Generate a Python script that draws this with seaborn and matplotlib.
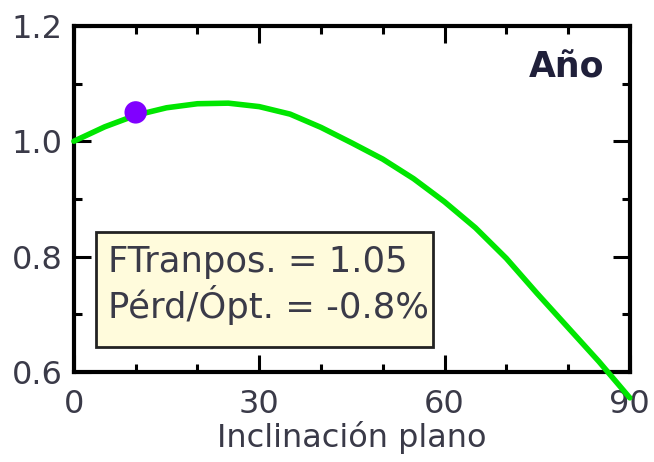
import matplotlib
matplotlib.use("Agg")
import matplotlib.pyplot as plt
from matplotlib.ticker import MultipleLocator
from matplotlib.patches import Rectangle
import numpy as np
import pandas as pd
import seaborn as sns

# Transposition factor versus plane tilt (annual)
tilt = [0, 5, 10, 15, 20, 25, 30, 35, 40, 45, 50, 55, 60, 65, 70, 75, 80, 85, 90]
factor = [1.000, 1.025, 1.045, 1.058, 1.065, 1.066, 1.060, 1.047, 1.024, 0.997,
          0.969, 0.935, 0.895, 0.850, 0.797, 0.736, 0.677, 0.618, 0.555]

current_tilt = [10]
current_factor = [1.05]
loss_pct = -0.8

x_ticks = [0, 30, 60, 90]
y_ticks = [0.6, 0.8, 1.0, 1.2]

sns.set_style("ticks")
plt.rcParams["font.family"] = ["DejaVu Sans"]

text_col = "#3a3a48"
fs = 23

df = pd.DataFrame({"tilt": tilt, "factor": factor})

fig = plt.figure(figsize=(6.54, 4.62), dpi=100)
ax = fig.add_axes([0.113, 0.195, 0.85, 0.749])

sns.lineplot(data=df, x="tilt", y="factor", ax=ax, color="#00e600",
             linewidth=4, clip_on=False, zorder=3)
sns.scatterplot(x=current_tilt, y=current_factor, ax=ax, color="#8000ff",
                s=260, edgecolor="none", zorder=4)

ax.set_xlim(0, 90)
ax.set_ylim(0.6, 1.2)
ax.set_xticks(x_ticks)
ax.set_yticks(y_ticks)
ax.set_xticklabels([str(v) for v in x_ticks])
ax.set_yticklabels([f"{v:.1f}" for v in y_ticks])
ax.xaxis.set_minor_locator(MultipleLocator(10))
ax.yaxis.set_minor_locator(MultipleLocator(0.1))

ax.tick_params(which="both", direction="in", top=True, right=True,
               width=2.2, color="black")
ax.tick_params(which="major", length=12, labelsize=fs, labelcolor=text_col)
ax.tick_params(axis="y", which="major", pad=8)
ax.tick_params(axis="x", which="major", pad=12)
ax.tick_params(which="minor", length=6)

for s in ax.spines.values():
    s.set_linewidth(3)
    s.set_color("black")

ax.set_xlabel("Inclinación plano", fontsize=23, color=text_col, labelpad=1)
ax.set_ylabel("")

ax.text(0.955, 0.88, "Año", transform=ax.transAxes, ha="right", va="center",
        fontsize=25, fontweight="bold", color="#20203a")

# Info box with the current transposition factor and loss versus optimum
ax.add_patch(Rectangle((0.040, 0.072), 0.606, 0.333, transform=ax.transAxes,
                       facecolor="#fffbdc", edgecolor="#222222", linewidth=2,
                       zorder=5))
ax.text(0.061, 0.318, f"FTranpos. = {current_factor[0]:.2f}",
        transform=ax.transAxes, ha="left", va="center", fontsize=25.5,
        color=text_col, zorder=6)
ax.text(0.061, 0.194, f"Pérd/Ópt. = {loss_pct}%",
        transform=ax.transAxes, ha="left", va="center", fontsize=25.5,
        color=text_col, zorder=6)

fig.savefig("out.png", dpi=100)
